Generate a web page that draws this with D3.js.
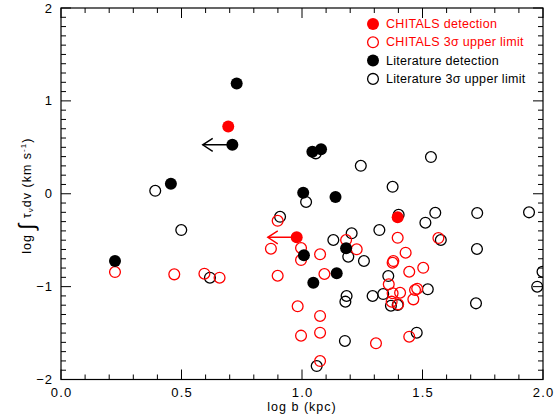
<!DOCTYPE html>
<meta charset='utf-8'>
<style>
  body { margin: 0; background: #fff; }
  text { font-family: 'Liberation Sans', Arial, sans-serif; }
</style>
<svg width='555' height='416'></svg>
<script src="https://d3js.org/d3.v7.min.js"></script>
<script>
  // log b (kpc), log integral tau dv
  var chitalsDet = [[0.694, 0.725], [0.978, -0.469], [1.397, -0.254]];
  var chitalsLim = [
    [0.224, -0.843], [0.470, -0.868], [0.595, -0.861], [0.658, -0.904],
    [0.899, -0.291], [0.871, -0.592], [0.996, -0.584], [0.996, -0.714],
    [1.075, -0.652], [1.183, -0.498], [1.227, -0.598], [0.899, -0.883],
    [1.093, -0.864], [0.982, -1.212], [1.075, -1.316], [1.075, -1.496],
    [0.996, -1.528], [1.307, -1.610], [1.075, -1.801], [1.397, -0.474],
    [1.566, -0.477], [1.430, -0.635], [1.376, -0.743], [1.379, -0.725],
    [1.445, -0.840], [1.503, -0.797], [1.360, -0.975], [1.376, -1.072],
    [1.407, -1.066], [1.372, -1.162], [1.399, -1.190], [1.462, -1.137],
    [1.469, -1.037], [1.478, -1.023], [1.445, -1.539]
  ];
  var litDet = [
    [0.729, 1.188], [0.711, 0.527], [0.456, 0.108], [0.224, -0.724],
    [1.043, 0.452], [1.079, 0.478], [1.005, 0.011], [1.139, -0.036],
    [1.008, -0.663], [1.183, -0.588], [1.144, -0.857], [1.047, -0.958]
  ];
  var litLim = [
    [0.391, 0.032], [0.499, -0.391], [0.618, -0.904], [1.057, 0.435],
    [1.244, 0.301], [1.017, -0.089], [0.909, -0.248], [1.130, -0.498],
    [1.206, -0.426], [1.192, -0.678], [1.257, -0.724], [1.185, -1.101],
    [1.180, -1.162], [1.293, -1.101], [1.178, -1.585], [1.061, -1.855],
    [1.535, 0.395], [1.376, 0.075], [1.401, -0.226], [1.553, -0.205],
    [1.727, -0.208], [1.942, -0.200], [1.512, -0.312], [1.321, -0.391],
    [1.576, -0.498], [1.726, -0.595], [1.358, -0.886], [1.337, -1.080],
    [1.369, -1.206], [1.397, -1.198], [1.522, -1.029], [1.722, -1.180],
    [1.976, -1.001], [1.998, -0.840], [1.476, -1.496]
  ];
  // detections with only an upper limit on b: [b, tau, arrow tip b]
  var litArrows = [[0.711, 0.527, 0.588]];
  var chitalsArrows = [[0.978, -0.469, 0.858]];

  var legendLabels = ['CHITALS detection', 'CHITALS 3\u03c3 upper limit',
                      'Literature detection', 'Literature 3\u03c3 upper limit'];
  var legendColors = ['red', 'red', 'black', 'black'];
  var legendFilled = [true, false, true, false];

  var xTicks = [0, 0.5, 1.0, 1.5, 2.0];
  var yTicks = [-2, -1, 0, 1, 2];

  var svg = d3.select('svg'),
    pL = 61, pR = 543, pT = 8, pB = 379.5,
    r = 6;

  var x = d3.scaleLinear().domain([0, 2]).range([pL, pR]);
  var y = d3.scaleLinear().domain([-2, 2]).range([pB, pT]);

  svg.append('clipPath').attr('id', 'clip')
    .append('rect')
    .attr('x', pL).attr('y', pT)
    .attr('width', pR - pL).attr('height', pB - pT);

  var plot = svg.append('g').attr('clip-path', 'url(#clip)');

  function drawPoints(data, color, filled) {
    plot.append('g').selectAll('circle').data(data).enter()
      .append('circle')
      .attr('cx', function(d) { return x(d[0]); })
      .attr('cy', function(d) { return y(d[1]); })
      .attr('r', filled ? r : r - 0.6)
      .attr('fill', filled ? color : 'none')
      .attr('stroke', filled ? 'none' : color)
      .attr('stroke-width', 1.3);
  }

  function drawArrows(data, color) {
    var g = plot.append('g').selectAll('g').data(data).enter().append('g')
      .attr('stroke', color).attr('stroke-width', 1.4).attr('fill', 'none');
    g.append('line')
      .attr('x1', function(d) { return x(d[0]); })
      .attr('y1', function(d) { return y(d[1]); })
      .attr('x2', function(d) { return x(d[2]); })
      .attr('y2', function(d) { return y(d[1]); });
    g.append('path')
      .attr('d', function(d) {
        var tx = x(d[2]), ty = y(d[1]);
        return 'M' + (tx + 10) + ',' + (ty - 6.5) + 'L' + tx + ',' + ty + 'L' + (tx + 10) + ',' + (ty + 6.5);
      });
  }

  drawArrows(litArrows, 'black');
  drawArrows(chitalsArrows, 'red');
  drawPoints(litLim, 'black', false);
  drawPoints(chitalsLim, 'red', false);
  drawPoints(litDet, 'black', true);
  drawPoints(chitalsDet, 'red', true);

  // frame and ticks on all sides
  svg.append('rect')
    .attr('x', pL).attr('y', pT)
    .attr('width', pR - pL).attr('height', pB - pT)
    .attr('fill', 'none').attr('stroke', 'black').attr('stroke-width', 1.2);

  var ticks = svg.append('g').attr('stroke', 'black').attr('stroke-width', 1);
  d3.range(0, 2.0001, 0.1).forEach(function(v) {
    var major = Math.abs(v * 2 - Math.round(v * 2)) < 1e-6;
    var len = major ? 10 : 5;
    ticks.append('line').attr('x1', x(v)).attr('x2', x(v)).attr('y1', pB).attr('y2', pB - len);
    ticks.append('line').attr('x1', x(v)).attr('x2', x(v)).attr('y1', pT).attr('y2', pT + len);
  });
  d3.range(-2, 2.0001, 0.1).forEach(function(v) {
    var major = Math.abs(v - Math.round(v)) < 1e-6;
    var len = major ? 10 : 5;
    ticks.append('line').attr('y1', y(v)).attr('y2', y(v)).attr('x1', pL).attr('x2', pL + len);
    ticks.append('line').attr('y1', y(v)).attr('y2', y(v)).attr('x1', pR).attr('x2', pR - len);
  });

  svg.append('g').selectAll('text').data(xTicks).enter().append('text')
    .attr('x', function(d) { return x(d) + 0.6; })
    .attr('y', 397)
    .attr('text-anchor', 'middle')
    .attr('font-size', 13)
    .attr('letter-spacing', 1.2)
    .text(function(d) { return d.toFixed(1); });

  svg.append('g').selectAll('text').data(yTicks).enter().append('text')
    .attr('x', 53)
    .attr('y', function(d) { return y(d) + 4.5; })
    .attr('text-anchor', 'end')
    .attr('font-size', 13)
    .attr('letter-spacing', 1)
    .text(function(d) { return d < 0 ? '\u2212' + (-d) : d; });

  svg.append('text')
    .attr('x', x(1)).attr('y', 411)
    .attr('text-anchor', 'middle')
    .attr('font-size', 12.5)
    .attr('letter-spacing', 1)
    .text('log b (kpc)');

  var yl = svg.append('text')
    .attr('transform', 'translate(31,' + (y(0) + 2) + ') rotate(-90)')
    .attr('text-anchor', 'middle')
    .attr('font-size', 12.5)
    .attr('letter-spacing', 1);
  yl.append('tspan').text('log ');
  yl.append('tspan').attr('font-size', 22).attr('dy', 3).text('\u222b');
  yl.append('tspan').attr('dy', -3).text(' \u03c4');
  yl.append('tspan').attr('font-size', 8).attr('dy', 2).text('\u03bd');
  yl.append('tspan').attr('dy', -2).text('dv (km s');
  yl.append('tspan').attr('font-size', 8).attr('dy', -5).text('-1');
  yl.append('tspan').attr('dy', 5).text(')');

  // legend
  var leg = svg.append('g').selectAll('g').data(legendLabels).enter().append('g')
    .attr('transform', function(d, i) { return 'translate(373,' + (24 + i * 18.3) + ')'; });
  leg.append('circle')
    .attr('r', function(d, i) { return legendFilled[i] ? r : r - 0.6; })
    .attr('fill', function(d, i) { return legendFilled[i] ? legendColors[i] : 'none'; })
    .attr('stroke', function(d, i) { return legendFilled[i] ? 'none' : legendColors[i]; })
    .attr('stroke-width', 1.3);
  leg.append('text')
    .attr('x', 13).attr('y', 4)
    .attr('font-size', 12.5)
    .attr('letter-spacing', 0.3)
    .attr('fill', function(d, i) { return legendColors[i]; })
    .text(function(d) { return d; });
</script>
